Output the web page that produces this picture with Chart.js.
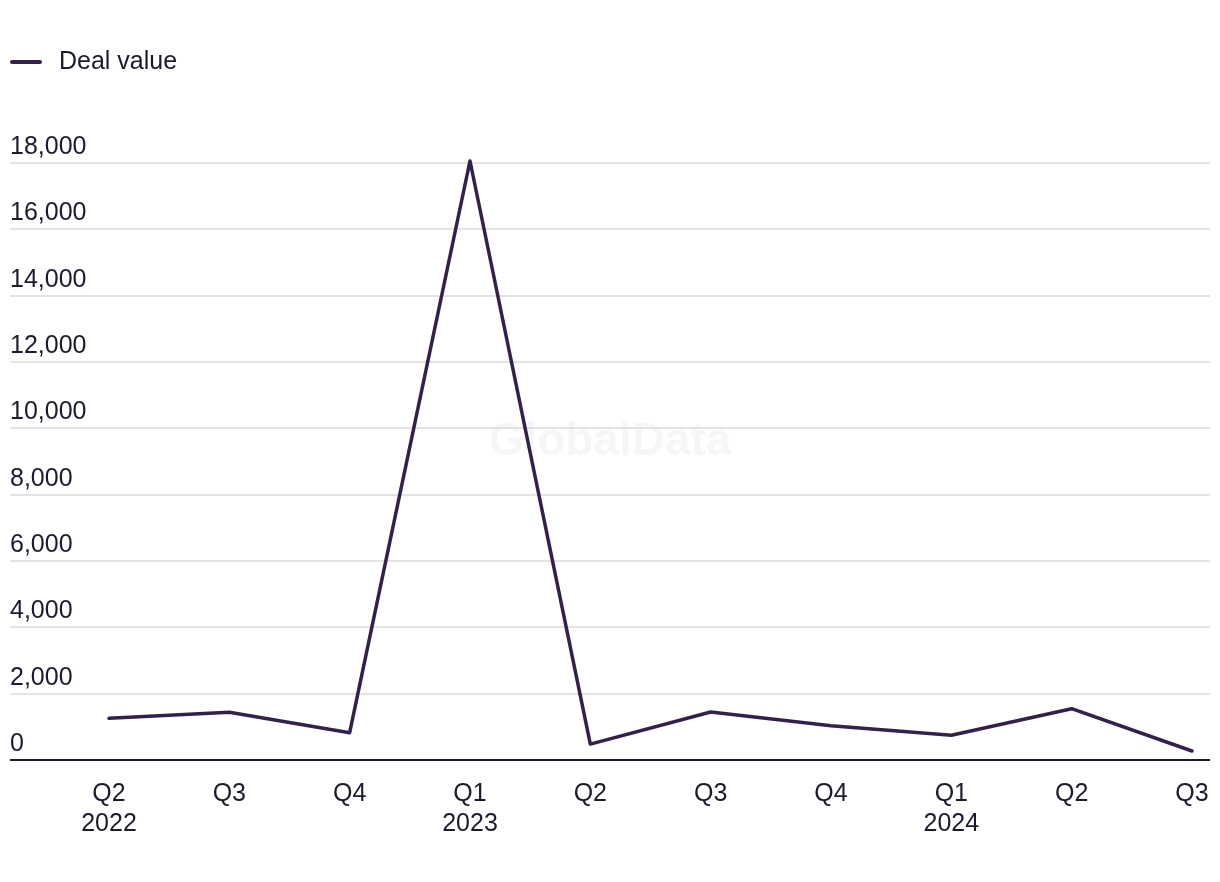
<!DOCTYPE html>
<html>
<head>
<meta charset="utf-8">
<script src="https://cdn.jsdelivr.net/npm/chart.js@4.4.0/dist/chart.umd.min.js"></script>
<style>
  html, body { margin: 0; padding: 0; background: #fff; }
  #wrap { width: 1220px; height: 882px; }
</style>
</head>
<body>
<div id="wrap"><canvas id="myChart" width="1220" height="882"></canvas></div>
<script>
// dati (deal value per trimestre)
var quarters = [['Q2', '2022'], 'Q3', 'Q4', ['Q1', '2023'], 'Q2', 'Q3', 'Q4', ['Q1', '2024'], 'Q2', 'Q3'];
var dealValue = [1257, 1438, 823, 18060, 480, 1447, 1034, 745, 1547, 271];
var yTicks = [0, 2000, 4000, 6000, 8000, 10000, 12000, 14000, 16000, 18000];
var seriesName = 'Deal value';

var lineColor = '#33204d';
var textColor = '#1b1b2e';
var fontFam = '"Liberation Sans", Arial, sans-serif';

// griglia, etichette asse y, legenda e watermark disegnati a mano
var decor = {
  id: 'decor',
  beforeDatasetsDraw: function(chart) {
    var ctx = chart.ctx;
    var y = chart.scales.y;
    ctx.save();
    // watermark
    ctx.font = 'bold 46px ' + fontFam;
    ctx.fillStyle = 'rgba(0,0,0,0.035)';
    ctx.textAlign = 'center';
    ctx.textBaseline = 'middle';
    ctx.fillText('GlobalData', 610, 442);

    ctx.font = '25px ' + fontFam;
    ctx.textAlign = 'left';
    ctx.textBaseline = 'alphabetic';
    for (var i = 0; i < yTicks.length; i++) {
      var py = Math.round(y.getPixelForValue(yTicks[i]));
      ctx.beginPath();
      ctx.moveTo(10, py);
      ctx.lineTo(1210, py);
      if (yTicks[i] === 0) {
        ctx.strokeStyle = textColor;
        ctx.lineWidth = 2;
      } else {
        ctx.strokeStyle = '#dadada';
        ctx.lineWidth = 1.5;
      }
      ctx.stroke();
      ctx.fillStyle = textColor;
      ctx.fillText(yTicks[i].toLocaleString('en-US'), 10, py - 9);
    }
    ctx.restore();
  },
  afterDraw: function(chart) {
    var ctx = chart.ctx;
    var ds = chart.data.datasets[0];
    ctx.save();
    ctx.beginPath();
    ctx.moveTo(12, 62);
    ctx.lineTo(40, 62);
    ctx.strokeStyle = ds.borderColor;
    ctx.lineWidth = 4;
    ctx.lineCap = 'round';
    ctx.stroke();
    ctx.font = '25px ' + fontFam;
    ctx.fillStyle = textColor;
    ctx.textBaseline = 'middle';
    ctx.fillText(ds.label, 59, 62);
    ctx.restore();
  }
};

var ctx = document.getElementById('myChart').getContext('2d');
var myChart = new Chart(ctx, {
  type: 'line',
  data: {
    labels: quarters,
    datasets: [{
      label: seriesName,
      data: dealValue,
      borderColor: lineColor,
      backgroundColor: lineColor,
      borderWidth: 3.5,
      borderJoinStyle: 'round',
      borderCapStyle: 'round',
      pointRadius: 0,
      pointHoverRadius: 0,
      tension: 0,
      clip: false
    }]
  },
  options: {
    responsive: false,
    animation: false,
    layout: { padding: { left: 109, right: 28, top: 163, bottom: 24 } },
    plugins: {
      legend: { display: false },
      tooltip: { enabled: false }
    },
    scales: {
      x: {
        grid: { display: false, drawTicks: false },
        border: { display: false },
        afterFit: function(s) {
          // niente spazio extra per le etichette ai bordi
          s.paddingLeft = 0;
          s.paddingRight = 0;
        },
        ticks: {
          color: textColor,
          padding: 19,
          maxRotation: 0,
          autoSkip: false,
          font: { family: fontFam, size: 25, lineHeight: 1.2 }
        }
      },
      y: {
        display: false,
        min: 0,
        max: 18000
      }
    }
  },
  plugins: [decor]
});
</script>
</body>
</html>
